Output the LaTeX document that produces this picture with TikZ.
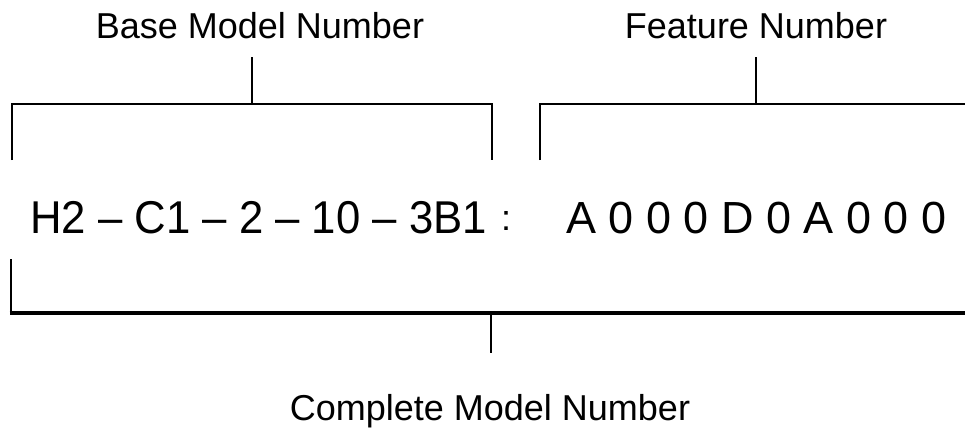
\documentclass[tikz,border=0pt]{standalone}
\usepackage{fontspec}
\usepackage{graphicx}
\setmainfont{Liberation Sans}
\begin{document}
\begin{tikzpicture}[x=1pt,y=-1pt,
  bracket/.style={line width=2.6pt, line cap=butt, line join=miter},
  heavybar/.style={line width=4pt, line cap=butt},
  caption/.style={inner sep=0pt, anchor=base, font=\fontsize{36}{42}\selectfont},
  code/.style={inner sep=0pt, anchor=base west, font=\fontsize{46}{54}\selectfont}]
\useasboundingbox (0,0) rectangle (965,432);

% captions
\node[caption] (base) at (260,38) {Base Model Number};
\node[caption] (feat) at (756,38) {Feature Number};
\node[caption] (full) at (490,420) {Complete Model Number};

% the model number itself
\node[code] (bmn) at (30,233) {\scalebox{0.95}[1]{H2 -- C1 -- 2 -- 10 -- 3B1}};
\node[inner sep=0pt, anchor=base, font=\fontsize{36}{42}\selectfont] (sep) at (506,230) {:};
\node[code, font=\fontsize{45}{54}\selectfont] (fn) at (566,233) {A 0 0 0 D 0 A 0 0 0};

% bracket over the base model number
\coordinate (bbar) at (252,104);
\coordinate (bl) at (12,160);
\coordinate (br) at (492,160);
\draw[bracket] (bl) -- (bl |- bbar) -- (br |- bbar) -- (br);
\draw[bracket] (bbar) -- (bbar |- 0,57);

% bracket over the feature number
\coordinate (fbar) at (756,104);
\coordinate (fl) at (540,160);
\coordinate (fr) at (967,104);
\draw[bracket] (fl) -- (fl |- fbar) -- (fr);
\draw[bracket] (fbar) -- (fbar |- 0,57);

% bracket under the complete model number
\coordinate (cbar) at (491,313);
\coordinate (cl) at (11,259);
\coordinate (cr) at (967,313);
\coordinate (cstem) at (491,353);
\draw[bracket] (cl) -- (cl |- cbar);
\draw[heavybar] ([xshift=-1.3pt]cl |- cbar) -- (cr);
\draw[bracket] (cbar) -- (cstem);
\end{tikzpicture}
\end{document}
